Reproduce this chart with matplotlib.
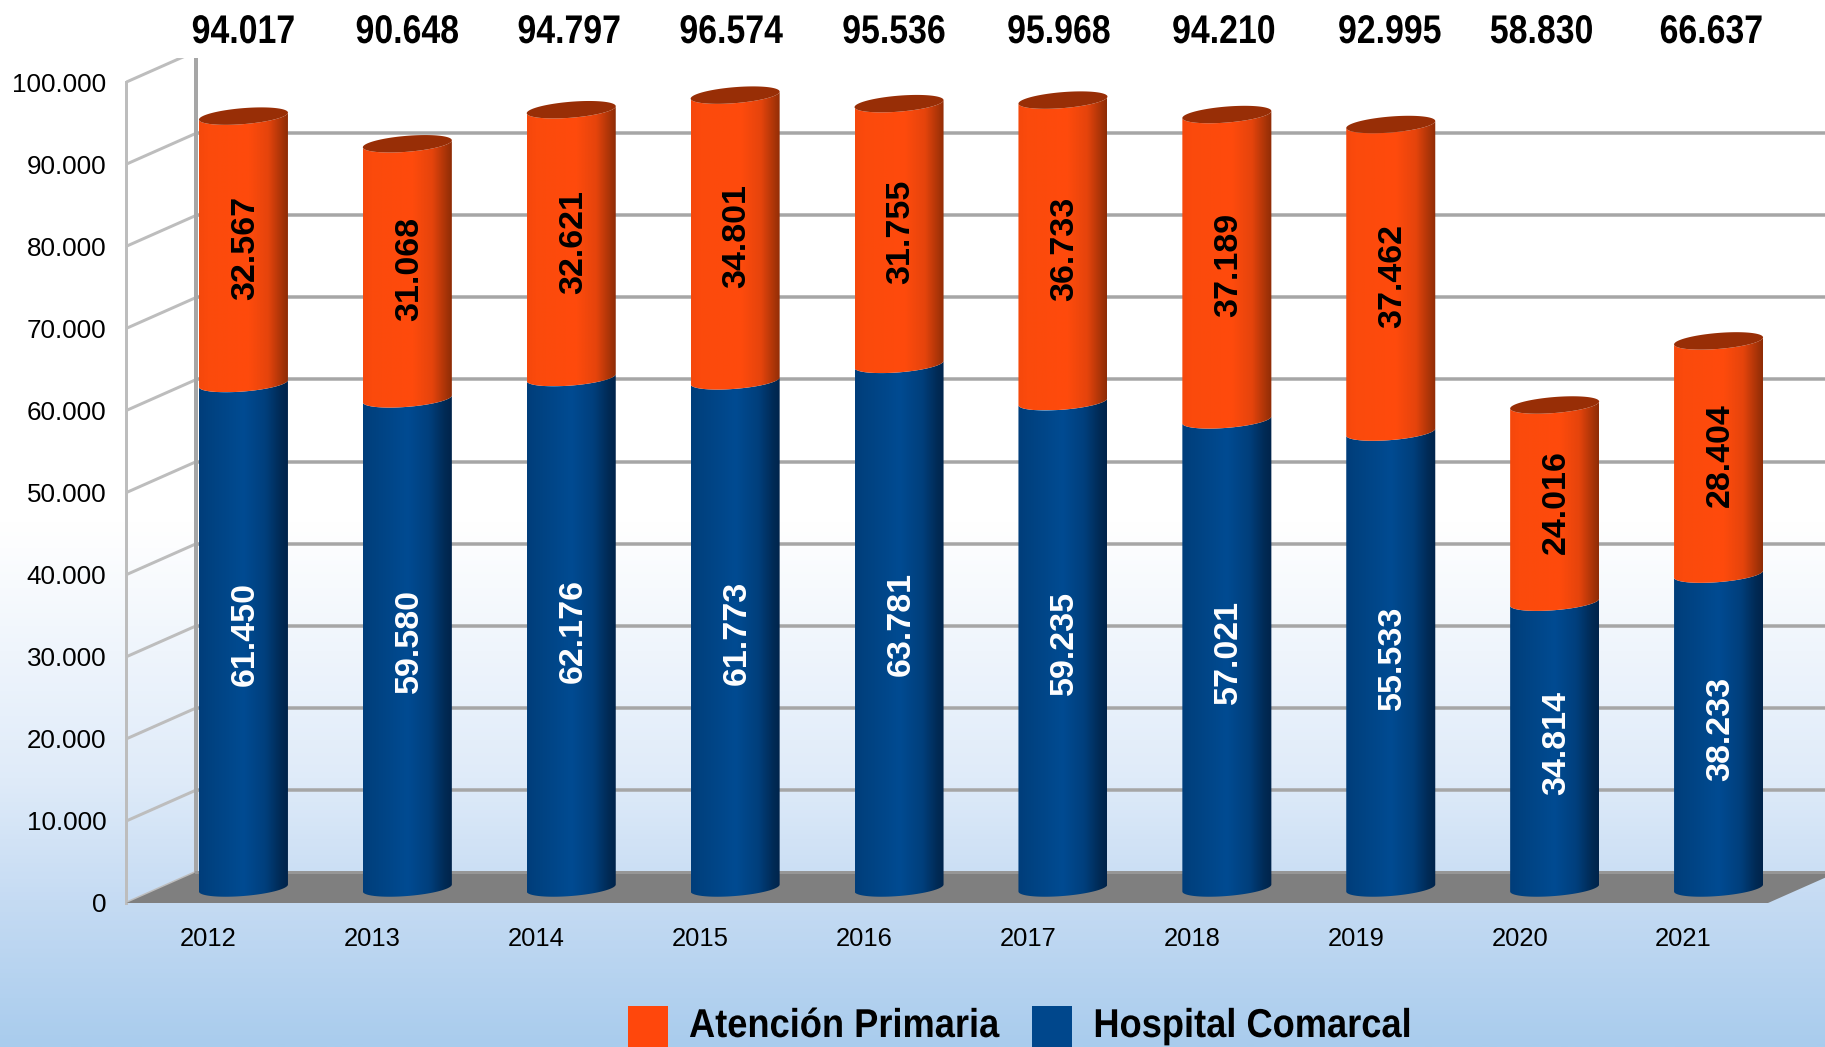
import numpy as np
import matplotlib
matplotlib.use("Agg")
import matplotlib.pyplot as plt
from matplotlib import font_manager as fm
from matplotlib.colors import LinearSegmentedColormap as LSC
from matplotlib.legend_handler import HandlerPatch
from matplotlib.patches import Polygon, Patch, Rectangle
from matplotlib.path import Path
from matplotlib.patheffects import AbstractPathEffect
from matplotlib.transforms import Affine2D

years = ["2012", "2013", "2014", "2015", "2016", "2017", "2018", "2019", "2020", "2021"]
hospital = [61450, 59580, 62176, 61773, 63781, 59235, 57021, 55533, 34814, 38233]
primaria = [32567, 31068, 32621, 34801, 31755, 36733, 37189, 37462, 24016, 28404]
totals = [94017, 90648, 94797, 96574, 95536, 95968, 94210, 92995, 58830, 66637]
y_ticks = list(range(0, 100001, 10000))
total_shift_px = [0, 0, -2, -4, -5, -4, -3, -1, -13, -7]

W, H = 1825, 1047
dpi = 100
PX = 72 / dpi
FONT = "Liberation Sans"
plt.rcParams["font.family"] = FONT


class Squeeze(AbstractPathEffect):
    """Condense a real text artist horizontally (no narrow bold face is installed)."""

    def __init__(self, sx, center=True):
        super().__init__()
        self.sx, self.center = sx, center

    def draw_path(self, renderer, gc, tpath, affine, rgbFace=None):
        ext = tpath.get_extents()
        x0 = (ext.x0 + ext.x1) / 2 if self.center else 0
        t = Affine2D().translate(-x0, 0).scale(self.sx, 1).translate(x0, 0) + affine
        renderer.draw_path(gc, tpath, t, rgbFace)


fig = plt.figure(figsize=(W / dpi, H / dpi), dpi=dpi, facecolor="white")

# page background
bg = fig.add_axes([0, 0, 1, 1], zorder=-1)
bg.axis("off")
bgmap = LSC.from_list("bg", [(0, "#ffffff"), (0.50, "#ffffff"), (0.745, "#dfebf9"),
                              (0.862, "#c5dbf3"), (1, "#a9cced")])
bg.imshow(np.linspace(0, 1, 512)[:, None], aspect="auto", cmap=bgmap, extent=(0, 1, 0, 1), vmin=0, vmax=1)

# plot axes: left/bottom = front plane origin, px scales below
X0, X1, Y0, Y1 = 126.5, 1825, 903, 58
px_x = 163.9
px_y = 82.1 / 10000
ax = fig.add_axes([X0 / W, 1 - Y0 / H, (X1 - X0) / W, (Y0 - Y1) / H], facecolor="none")
ax.set_autoscale_on(False)
ax.set_xlim(-0.5, -0.5 + (X1 - X0) / px_x)
ax.set_ylim(0, (Y0 - Y1) / px_y)

WALL_DX, WALL_DY = 70 / px_x, 31 / px_y
BAR_DX, BAR_DY = 35 / px_x, 15 / px_y
HALF, MINOR, TILT = 44.5 / px_x, 8 / px_y, 3.5 / px_y

n = len(years)
GRID = "#a6a6a6"
WALL = "#bdbdbd"
RIGHT = n - 0.5 + 2.5 / px_x

# floor
ax.add_patch(Polygon([(-0.5, 0), (RIGHT, 0), (RIGHT + WALL_DX, WALL_DY), (-0.5 + WALL_DX, WALL_DY)],
                     closed=True, fc="#7f7f7f", ec="none", zorder=1))
ax.plot([-0.5 + WALL_DX, RIGHT + WALL_DX], [WALL_DY, WALL_DY], color="#969696", lw=3 * PX, zorder=1.1)

# walls and gridlines
for v in y_ticks:
    if v > 0:
        ax.plot([-0.5 + WALL_DX, RIGHT + WALL_DX], [v + WALL_DY, v + WALL_DY],
                color=GRID, lw=3.5 * PX, zorder=0.5, solid_capstyle="butt")
    ax.plot([-0.5, -0.5 + WALL_DX], [v, v + WALL_DY], color=WALL, lw=3 * PX, zorder=0.6)
ax.plot([-0.5, -0.5], [0, y_ticks[-1]], color=WALL, lw=3 * PX, zorder=0.7, clip_on=False)
ax.plot([-0.5 + WALL_DX] * 2, [WALL_DY, ax.get_ylim()[1]], color=GRID, lw=4 * PX, zorder=0.7)

# cylinder shading
blue_map = LSC.from_list("blue", [(0, "#003d7a"), (0.1, "#00417f"), (0.5, "#004b92"),
                                   (0.75, "#003f7c"), (0.92, "#002a55"), (1, "#00234a")])
orange_map = LSC.from_list("orange", [(0, "#f5480c"), (0.1, "#fb4a0c"), (0.55, "#ff4b0c"),
                                       (0.78, "#e5440c"), (0.93, "#a93408"), (1, "#8e2c06")])
CAP = "#982e06"
theta = np.linspace(0, 2 * np.pi, 121)


def rim(cx, v, t):
    return cx + HALF * np.cos(t), v + MINOR * np.sin(t) + TILT * np.cos(t)


def segment(cx, v0, v1, cmap, z):
    t_front = np.linspace(np.pi, 2 * np.pi, 61)
    xb, yb = rim(cx, v0, t_front)
    xt, yt = rim(cx, v1, t_front[::-1])
    verts = np.r_[np.c_[xb, yb], np.c_[xt, yt], [[xb[0], yb[0]]]]
    path = Path(verts, closed=True)
    ymin, ymax = verts[:, 1].min(), verts[:, 1].max()
    im = ax.imshow(np.linspace(0, 1, 256)[None, :], aspect="auto", cmap=cmap, vmin=0, vmax=1,
                   extent=(cx - HALF, cx + HALF, ymin, ymax), zorder=z, interpolation="bilinear")
    im.set_clip_path(path, ax.transData)


fmt = lambda v: f"{v:,}".replace(",", ".")
LBL_DX, LBL_DY = 2 / px_x, 2 / px_y
for i in range(n):
    cx = i + BAR_DX
    base = BAR_DY
    h, p = hospital[i], primaria[i]
    segment(cx, base, base + h, blue_map, 2)
    segment(cx, base + h, base + h + p, orange_map, 3)
    xc, yc = rim(cx, base + h + p, theta)
    ax.fill(xc, yc, color=CAP, lw=0, zorder=4)
    ax.text(cx + LBL_DX, base + h / 2 + LBL_DY, fmt(h), rotation=90, ha="center", va="center", color="white",
            fontsize=24.5, fontweight="bold", zorder=5)
    ax.text(cx + LBL_DX, base + h + p / 2 + LBL_DY, fmt(p), rotation=90, ha="center", va="center", color="black",
            fontsize=24.5, fontweight="bold", zorder=5)
    ax.annotate(fmt(totals[i]), xy=(cx, 1), xycoords=("data", "axes fraction"),
                xytext=(total_shift_px[i] * PX, 26 * PX), textcoords="offset points",
                ha="center", va="center", fontsize=28.8, fontweight="bold",
                color="black", annotation_clip=False,
                path_effects=[Squeeze(0.846)])

# axes furniture
for s in ax.spines.values():
    s.set_visible(False)
ax.set_yticks(y_ticks, [fmt(v) for v in y_ticks])
ax.set_xticks(range(n), years)
ax.tick_params(axis="y", length=0, pad=14.4, labelsize=18.7)
ax.tick_params(axis="x", length=0, pad=17.2, labelsize=18.4)
for t in ax.get_yticklabels():
    t.set_transform(t.get_transform() + Affine2D().translate(0, 0))


# legend
def tall_patch(legend, orig_handle, xdescent, ydescent, width, height, fontsize):
    return Rectangle((-xdescent, -ydescent - 10), width, height + 10)


handles = [Patch(fc="#ff470c", ec="none"), Patch(fc="#00478c", ec="none")]
fs = 29
em = fs / PX
leg = fig.legend(handles, ["Atención Primaria", "Hospital Comarcal"], ncol=2, frameon=False,
                 loc="lower left", bbox_to_anchor=(628 / W, 2 / H), borderpad=0, borderaxespad=0,
                 prop=fm.FontProperties(family=FONT, weight="bold", size=fs),
                 handlelength=40 / em, handleheight=38.6 / em, handletextpad=21 / em,
                 columnspacing=-1 / em,
                 handler_map={Patch: HandlerPatch(patch_func=tall_patch)})
for t in leg.get_texts():
    t.set_path_effects([Squeeze(0.90, center=False)])

fig.savefig("out.png", dpi=dpi, facecolor=fig.get_facecolor())
